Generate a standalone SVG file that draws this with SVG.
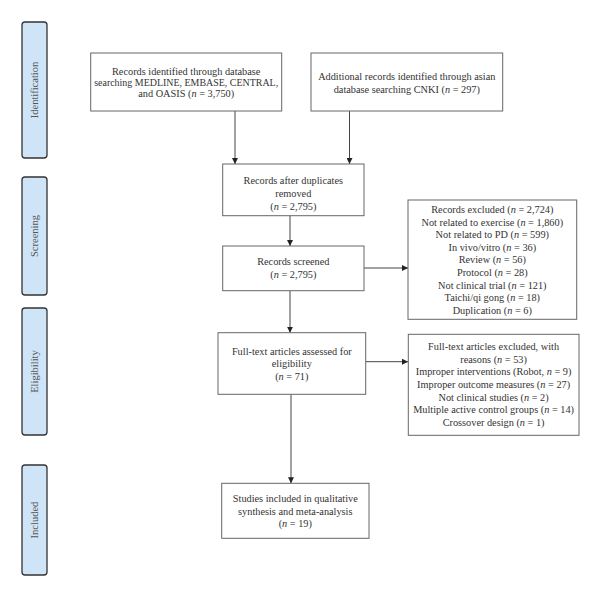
<svg xmlns="http://www.w3.org/2000/svg" width="600" height="596" viewBox="0 0 600 596">
<defs>
<marker id="ah" markerWidth="6" markerHeight="6" refX="6" refY="3" orient="auto" markerUnits="userSpaceOnUse">
<path d="M0,0 L6,3 L0,6 Z" fill="#222"/>
</marker>
<style>
.box{fill:#fff;stroke:#666;stroke-width:1}
.side{fill:#cfe4f7;stroke:#333;stroke-width:1.3}
text{font-family:"Liberation Serif","Times New Roman",serif;font-size:10.3px;fill:#333;text-anchor:middle}
.lab{font-size:10.5px;fill:#555}
.con{stroke:#444;stroke-width:1;fill:none;marker-end:url(#ah)}
</style>
</defs>
<rect width="600" height="596" fill="#fff"/>
<g id="side-identification"><rect class="side" x="22" y="22" width="25" height="136" rx="3"/><text class="lab" transform="translate(38,90) rotate(-90)">Identification</text></g>
<g id="side-screening"><rect class="side" x="22" y="177" width="25" height="118" rx="3"/><text class="lab" transform="translate(38,236) rotate(-90)">Screening</text></g>
<g id="side-eligibility"><rect class="side" x="22" y="308" width="25" height="127" rx="3"/><text class="lab" transform="translate(38,371.5) rotate(-90)">Eligibility</text></g>
<g id="side-included"><rect class="side" x="22" y="465" width="25" height="110" rx="3"/><text class="lab" transform="translate(38,520) rotate(-90)">Included</text></g>

<g id="connectors">
<path class="con" d="M235,111 V164"/>
<path class="con" d="M349.5,111 V164"/>
<path class="con" d="M290,215.7 V246"/>
<path class="con" d="M364,268 H408"/>
<path class="con" d="M290,290.7 V332.7"/>
<path class="con" d="M365.7,361.7 H408"/>
<path class="con" d="M291,394.3 V483.3"/>
</g>

<g id="n-db"><rect class="box" x="90.7" y="53" width="191" height="58"/>
<text x="186.2" y="74.5">Records identified through database</text>
<text x="186.2" y="85.5" textLength="184" lengthAdjust="spacingAndGlyphs">searching MEDLINE, EMBASE, CENTRAL,</text>
<text x="186.2" y="96.5">and OASIS (<tspan font-style="italic">n</tspan> = 3,750)</text></g>

<g id="n-cnki"><rect class="box" x="311" y="53" width="191.7" height="58"/>
<text x="406.8" y="79.5">Additional records identified through asian</text>
<text x="406.8" y="92.5">database searching CNKI (<tspan font-style="italic">n</tspan> = 297)</text></g>

<g id="n-dup"><rect class="box" x="222.7" y="164" width="141.3" height="51.7"/>
<text x="293.3" y="183.5">Records after duplicates</text>
<text x="293.3" y="196.5">removed</text>
<text x="293.3" y="209.5">(<tspan font-style="italic">n</tspan> = 2,795)</text></g>

<g id="n-screened"><rect class="box" x="222.7" y="246" width="141.3" height="44.7"/>
<text x="293.3" y="264.5">Records screened</text>
<text x="293.3" y="277.8">(<tspan font-style="italic">n</tspan> = 2,795)</text></g>

<g id="n-excl1"><rect class="box" x="408" y="200" width="168.7" height="119.3"/>
<text x="492.3" y="212.8">Records excluded (<tspan font-style="italic">n</tspan> = 2,724)</text>
<text x="492.3" y="225.6">Not related to exercise (<tspan font-style="italic">n</tspan> = 1,860)</text>
<text x="492.3" y="238.2">Not related to PD (<tspan font-style="italic">n</tspan> = 599)</text>
<text x="492.3" y="250.8">In vivo/vitro (<tspan font-style="italic">n</tspan> = 36)</text>
<text x="492.3" y="263.4">Review (<tspan font-style="italic">n</tspan> = 56)</text>
<text x="492.3" y="276">Protocol (<tspan font-style="italic">n</tspan> = 28)</text>
<text x="492.3" y="288.6">Not clinical trial (<tspan font-style="italic">n</tspan> = 121)</text>
<text x="492.3" y="301.2">Taichi/qi gong (<tspan font-style="italic">n</tspan> = 18)</text>
<text x="492.3" y="313.8">Duplication (<tspan font-style="italic">n</tspan> = 6)</text></g>

<g id="n-fulltext"><rect class="box" x="218" y="332.7" width="147.7" height="61.6"/>
<text x="291.8" y="354.5">Full-text articles assessed for</text>
<text x="291.8" y="367">eligibility</text>
<text x="291.8" y="379.5">(<tspan font-style="italic">n</tspan> = 71)</text></g>

<g id="n-excl2"><rect class="box" x="408.3" y="334.3" width="170.7" height="101"/>
<text x="493.6" y="350.2">Full-text articles excluded, with</text>
<text x="493.6" y="362.8">reasons (<tspan font-style="italic">n</tspan> = 53)</text>
<text x="493.6" y="375.4">Improper interventions (Robot, <tspan font-style="italic">n</tspan> = 9)</text>
<text x="493.6" y="388">Improper outcome measures (<tspan font-style="italic">n</tspan> = 27)</text>
<text x="493.6" y="400.6">Not clinical studies (<tspan font-style="italic">n</tspan> = 2)</text>
<text x="493.6" y="413.2">Multiple active control groups (<tspan font-style="italic">n</tspan> = 14)</text>
<text x="493.6" y="425.8">Crossover design (<tspan font-style="italic">n</tspan> = 1)</text></g>

<g id="n-included"><rect class="box" x="221.7" y="483.3" width="147.3" height="55"/>
<text x="295.3" y="502">Studies included in qualitative</text>
<text x="295.3" y="514.5">synthesis and meta-analysis</text>
<text x="295.3" y="527">(<tspan font-style="italic">n</tspan> = 19)</text></g>
</svg>
